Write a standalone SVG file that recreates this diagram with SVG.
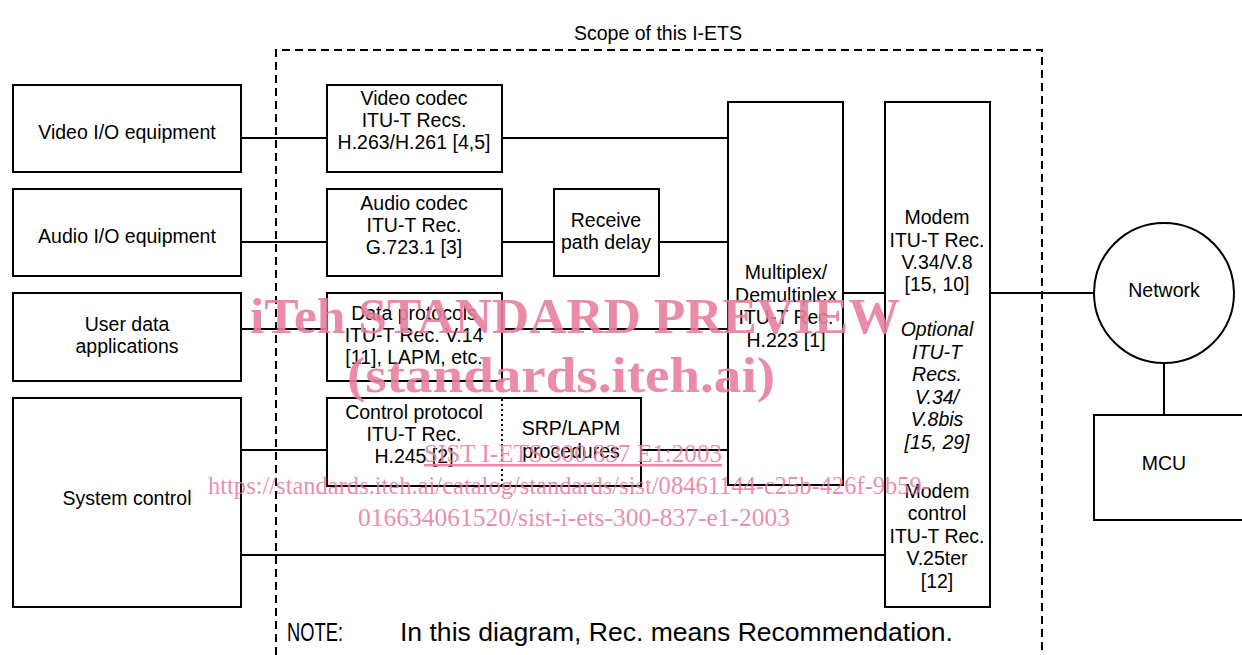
<svg xmlns="http://www.w3.org/2000/svg" width="1242" height="655" viewBox="0 0 1242 655">
<style>
.box{fill:#fff;stroke:#000;stroke-width:2}
.t{font-family:"Liberation Sans",Arial,sans-serif;font-size:19.5px;fill:#000;text-anchor:middle}
.it{font-style:italic}
.c{stroke:#000;stroke-width:2;fill:none}
.wm{font-family:"Liberation Serif","Times New Roman",serif;fill:#e87f9f;fill-opacity:0.9}
</style>
<rect width="1242" height="655" fill="#fff"/>
<g id="scope">
<path d="M276,655 V50 H1042 V655" fill="none" stroke="#000" stroke-width="2" stroke-dasharray="8,5"/>
<text class="t" x="658" y="40">Scope of this I-ETS</text>
</g>
<g id="connectors">
<path class="c" d="M241,138 H327 M502,138 H728"/>
<path class="c" d="M241,242 H327 M502,242 H554 M659,242 H728"/>
<path class="c" d="M241,329 H327 M502,329 H728"/>
<path class="c" d="M241,450 H327 M641,450 H728"/>
<path class="c" d="M241,555 H885"/>
<path class="c" d="M843,293 H885 M990,293 H1094"/>
<path class="c" d="M1164,363 V415"/>
</g>
<g id="video-io"><rect class="box" x="13" y="85" width="228" height="87"/><text class="t" x="127" y="139">Video I/O equipment</text></g>
<g id="audio-io"><rect class="box" x="13" y="189" width="228" height="87"/><text class="t" x="127" y="243">Audio I/O equipment</text></g>
<g id="user-data"><rect class="box" x="13" y="293" width="228" height="88"/><text class="t" x="127" y="331">User data</text><text class="t" x="127" y="353">applications</text></g>
<g id="system-control"><rect class="box" x="13" y="398" width="228" height="209"/><text class="t" x="127" y="505">System control</text></g>
<g id="video-codec"><rect class="box" x="327" y="85" width="175" height="87"/><text class="t" x="414" y="105">Video codec</text><text class="t" x="414" y="127">ITU-T Recs.</text><text class="t" x="414" y="149">H.263/H.261 [4,5]</text></g>
<g id="audio-codec"><rect class="box" x="327" y="189" width="175" height="87"/><text class="t" x="414" y="210">Audio codec</text><text class="t" x="414" y="232">ITU-T Rec.</text><text class="t" x="414" y="254">G.723.1 [3]</text></g>
<g id="receive-delay"><rect class="box" x="554" y="189" width="105" height="87"/><text class="t" x="606" y="227">Receive</text><text class="t" x="606" y="249">path delay</text></g>
<g id="data-protocols"><rect class="box" x="327" y="293" width="175" height="88"/><text class="t" x="414" y="320">Data protocols</text><text class="t" x="414" y="342">ITU-T Rec. V.14</text><text class="t" x="414" y="364">[11], LAPM, etc.</text></g>
<g id="control-protocol"><rect class="box" x="327" y="398" width="314" height="88"/>
<line x1="502" y1="399" x2="502" y2="485" stroke="#000" stroke-width="2" stroke-dasharray="2,3"/>
<text class="t" x="414" y="419">Control protocol</text><text class="t" x="414" y="441">ITU-T Rec.</text><text class="t" x="414" y="463">H.245 [2]</text>
<text class="t" x="571" y="435">SRP/LAPM</text><text class="t" x="571" y="458">procedures</text></g>
<g id="mux"><rect class="box" x="728" y="102" width="115" height="383"/><text class="t" x="786" y="279">Multiplex/</text><text class="t" x="786" y="302">Demultiplex</text><text class="t" x="786" y="324">ITU-T Rec.</text><text class="t" x="786" y="347">H.223 [1]</text></g>
<g id="modem"><rect class="box" x="885" y="102" width="105" height="505"/>
<text class="t" x="937" y="224">Modem</text><text class="t" x="937" y="247">ITU-T Rec.</text><text class="t" x="937" y="269">V.34/V.8</text><text class="t" x="937" y="291">[15, 10]</text>
<text class="t it" x="937" y="336">Optional</text><text class="t it" x="937" y="359">ITU-T</text><text class="t it" x="937" y="381">Recs.</text><text class="t it" x="937" y="404">V.34/</text><text class="t it" x="937" y="426">V.8bis</text><text class="t it" x="937" y="449">[15, 29]</text>
<text class="t" x="937" y="498">Modem</text><text class="t" x="937" y="520">control</text><text class="t" x="937" y="543">ITU-T Rec.</text><text class="t" x="937" y="565">V.25ter</text><text class="t" x="937" y="588">[12]</text></g>
<g id="network"><circle class="box" cx="1164" cy="293" r="70"/><text class="t" x="1164" y="297">Network</text></g>
<g id="mcu"><rect class="box" x="1094" y="415" width="150" height="105"/><text class="t" x="1164" y="470">MCU</text></g>
<g id="note"><text x="287" y="641" style="font-family:'Liberation Sans',Arial,sans-serif;font-size:25px" textLength="56" lengthAdjust="spacingAndGlyphs">NOTE:</text><text x="400" y="641" style="font-family:'Liberation Sans',Arial,sans-serif;font-size:25px" textLength="553" lengthAdjust="spacingAndGlyphs">In this diagram, Rec. means Recommendation.</text></g>
<g id="watermark">
<text class="wm" x="250" y="333" style="font-size:51px;font-weight:bold" textLength="650" lengthAdjust="spacingAndGlyphs">iTeh STANDARD PREVIEW</text>
<text class="wm" x="347" y="392" style="font-size:51px;font-weight:bold" textLength="428" lengthAdjust="spacingAndGlyphs">(standards.iteh.ai)</text>
<text class="wm" x="424" y="462" style="font-size:25px;text-decoration:underline" textLength="298" lengthAdjust="spacingAndGlyphs">SIST I-ETS 300 837 E1:2003</text>
<text class="wm" x="208" y="494" style="font-size:25px" textLength="722" lengthAdjust="spacingAndGlyphs">https://standards.iteh.ai/catalog/standards/sist/08461144-c25b-426f-9b59-</text>
<text class="wm" x="358" y="526" style="font-size:25px" textLength="432" lengthAdjust="spacingAndGlyphs">016634061520/sist-i-ets-300-837-e1-2003</text>
</g>
</svg>
